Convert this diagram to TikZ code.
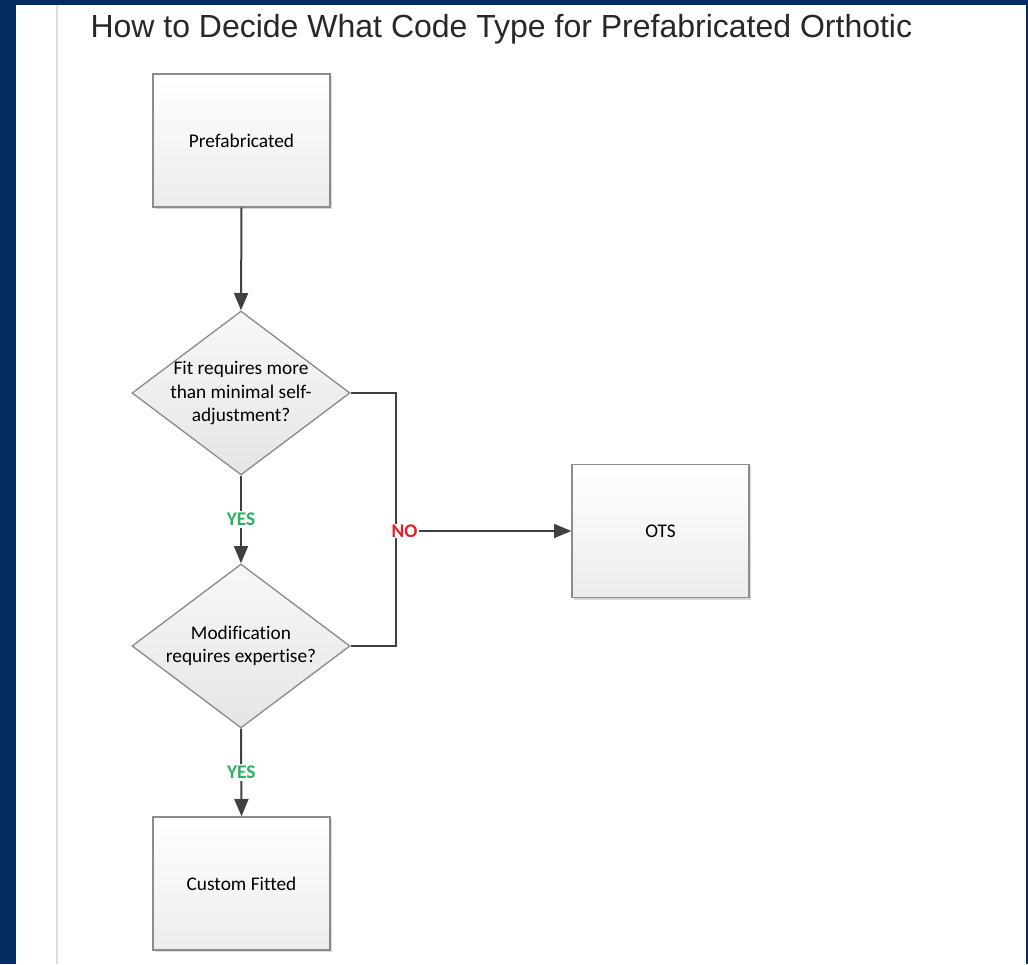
\documentclass[tikz,border=0pt]{standalone}
\usepackage{fontspec}
\setmainfont{Carlito}[Ligatures=CommonOff]
\newfontfamily\titlefont{Liberation Sans}
\usetikzlibrary{arrows.meta,shapes.geometric,shadows}

\definecolor{navyframe}{RGB}{6,45,98}
\definecolor{boxline}{RGB}{140,140,140}
\definecolor{boxfill}{RGB}{236,236,236}
\definecolor{flowgrey}{RGB}{64,64,64}
\definecolor{yesgreen}{RGB}{40,178,98}
\definecolor{nored}{RGB}{232,28,40}

\tikzset{every picture/.style={line width=0.75pt}}
\tikzset{
  box/.style={rectangle, draw=boxline, line width=1pt, top color=white, bottom color=boxfill,
    minimum width=132.75pt, minimum height=99.75pt, inner sep=0pt, font=\fontsize{14.5}{17.5}\selectfont,
    drop shadow={shadow xshift=1.5pt, shadow yshift=-1.5pt, opacity=0.15, fill=black}},
  decision/.style={diamond, draw=boxline, line width=1pt, top color=white!97!black, bottom color=boxfill!97!black,
    minimum width=163.5pt, minimum height=123pt, inner sep=0pt},
  dtext/.style={align=center, inner sep=0pt, font=\fontsize{14.5}{17.5}\selectfont},
  flow/.style={draw=flowgrey, line width=1.5pt, -{Triangle[length=13pt,width=10.5pt]}},
  link/.style={draw=flowgrey, line width=1.5pt},
  answer/.style={fill=white, inner sep=1.5pt, font=\fontsize{14.5}{17.5}\selectfont\bfseries},
}

\begin{document}
\begin{tikzpicture}[x=0.75pt,y=0.75pt,yscale=-1,xscale=1]
\useasboundingbox (0,0) rectangle (1028,964);

%Page background and frame
\fill [white] (0,0) rectangle (1028,964);
\fill [navyframe] (0,0) rectangle (16,964);
\fill [navyframe] (0,0) rectangle (1028,5);
\fill [navyframe] (1026,0) rectangle (1028,964);
\draw [color={rgb, 255:red, 222; green, 222; blue, 222 }, line width=1pt] (57,5) -- (57,964);

% Title Node
\node (title) [anchor=base west, inner sep=0pt, text={rgb, 255:red, 40; green, 40; blue, 40 }]
  at (90,37) {\titlefont\fontsize{24}{28}\selectfont How to Decide What Code Type for Prefabricated Orthotic};

%Shape: Rectangle
\node (pre) [box] at (241.5,140.5) {Prefabricated};
%Shape: Diamond
\node (fit) [decision] at (241,393) {};
\node (fit-txt) [dtext] at (fit) {Fit requires more\\than minimal self-\\adjustment?};
%Shape: Diamond
\node (mod) [decision] at (241,646) {};
\node (mod-txt) [dtext] at (mod) {Modification\\requires expertise?};
%Shape: Rectangle
\node (ots) [box] at (660.5,531) {OTS};
%Shape: Rectangle
\node (cf) [box] at (241.5,883.5) {Custom Fitted};

%Connectors
\draw [flow] (pre.south) -- (fit.north);
\draw [flow] (fit.south) -- node (yes1) [answer, text=yesgreen] {YES} (mod.north);
\draw [flow] (mod.south) -- node (yes2) [answer, text=yesgreen] {YES} (cf.north);
\coordinate (turn) at (396,531);
\draw [link] (fit.east) -| (turn) |- (mod.east);
\node (no) [answer, text=nored, inner sep=0.5pt] at (404.5,531) {NO};
\draw [flow] (no.east) -- (ots.west);

\end{tikzpicture}
\end{document}
